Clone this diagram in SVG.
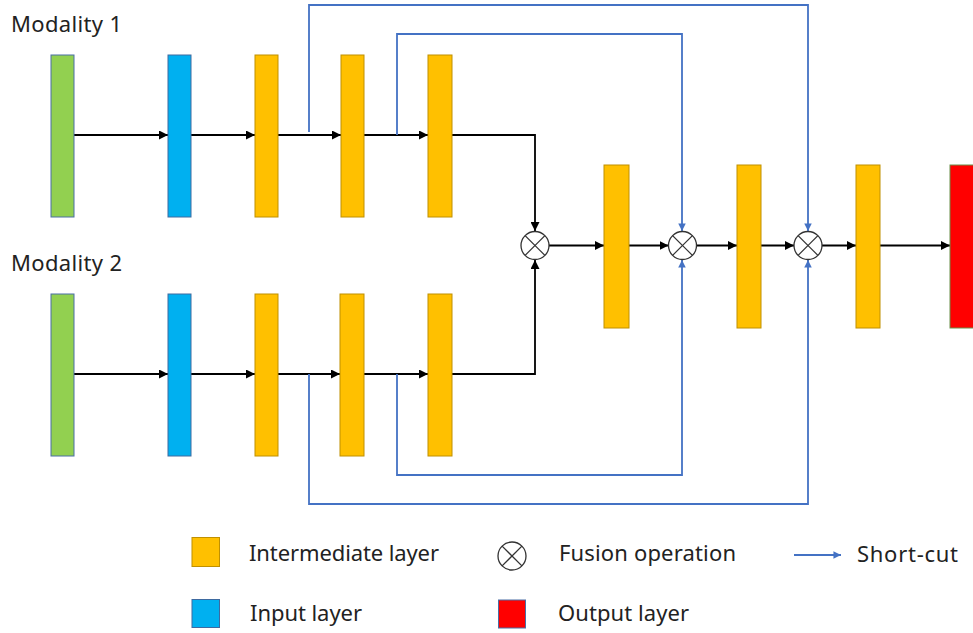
<svg xmlns="http://www.w3.org/2000/svg" width="973" height="633" viewBox="0 0 973 633">
<defs>
<style>
.t{font-family:"Noto Sans","Open Sans","DejaVu Sans",sans-serif;font-size:22px;fill:#222}
.g{fill:#92D050;stroke:#4A6FA5;stroke-width:1}
.b{fill:#00B0F0;stroke:#3E6AA0;stroke-width:1}
.y{fill:#FFC000;stroke:#C09000;stroke-width:1}
.r{fill:#FF0000;stroke:#6A8F4A;stroke-width:1}
.k{fill:none;stroke:#000;stroke-width:1.8}
.s{fill:none;stroke:#4472C4;stroke-width:1.8}
.f circle{fill:#fff;stroke:#333;stroke-width:1.3}
.f line{stroke:#333;stroke-width:1.3}
</style>
<marker id="ak" viewBox="0 0 10 10" refX="10" refY="5" markerWidth="5" markerHeight="5" orient="auto" markerUnits="strokeWidth">
<path d="M0,0 L10,5 L0,10 z" fill="#000"/>
</marker>
<marker id="as" viewBox="0 0 10 10" refX="10" refY="5" markerWidth="4.2" markerHeight="4.2" orient="auto" markerUnits="strokeWidth">
<path d="M0,0 L10,5 L0,10 z" fill="#4472C4"/>
</marker>
</defs>
<rect width="973" height="633" fill="#fff"/>

<text class="t" x="11" y="32" textLength="111">Modality 1</text>
<text class="t" x="11" y="271" textLength="111">Modality 2</text>

<g id="connectors">
<!-- top row -->
<line class="k" x1="74" y1="135" x2="168" y2="135" marker-end="url(#ak)"/>
<line class="k" x1="191" y1="135" x2="255" y2="135" marker-end="url(#ak)"/>
<line class="k" x1="278" y1="135" x2="341" y2="135" marker-end="url(#ak)"/>
<line class="k" x1="364" y1="135" x2="428" y2="135" marker-end="url(#ak)"/>
<polyline class="k" points="452,135 535,135 535,231" marker-end="url(#ak)"/>
<!-- bottom row -->
<line class="k" x1="74" y1="374" x2="168" y2="374" marker-end="url(#ak)"/>
<line class="k" x1="191" y1="374" x2="255" y2="374" marker-end="url(#ak)"/>
<line class="k" x1="278" y1="374" x2="340" y2="374" marker-end="url(#ak)"/>
<line class="k" x1="364" y1="374" x2="428" y2="374" marker-end="url(#ak)"/>
<polyline class="k" points="452,374 535,374 535,260" marker-end="url(#ak)"/>
<!-- fusion path -->
<line class="k" x1="549" y1="245.5" x2="604" y2="245.5" marker-end="url(#ak)"/>
<line class="k" x1="629" y1="245.5" x2="668.5" y2="245.5" marker-end="url(#ak)"/>
<line class="k" x1="697" y1="245.5" x2="737" y2="245.5" marker-end="url(#ak)"/>
<line class="k" x1="761" y1="245.5" x2="794" y2="245.5" marker-end="url(#ak)"/>
<line class="k" x1="822" y1="245.5" x2="856" y2="245.5" marker-end="url(#ak)"/>
<line class="k" x1="880" y1="245.5" x2="950" y2="245.5" marker-end="url(#ak)"/>
<!-- short-cuts -->
<polyline class="s" points="309,132 309,5 808,5 808,231" marker-end="url(#as)"/>
<polyline class="s" points="397,135 397,34 682,34 682,231" marker-end="url(#as)"/>
<polyline class="s" points="397,374 397,475 682,475 682,260" marker-end="url(#as)"/>
<polyline class="s" points="309,374 309,504 808,504 808,260" marker-end="url(#as)"/>
</g>

<g id="m1-in"><rect class="g" x="51" y="55" width="23" height="162"/></g>
<g id="m1-l1"><rect class="b" x="168" y="55" width="23" height="162"/></g>
<g id="m1-l2"><rect class="y" x="255" y="55" width="23" height="162"/></g>
<g id="m1-l3"><rect class="y" x="341" y="55" width="23" height="162"/></g>
<g id="m1-l4"><rect class="y" x="428" y="55" width="24" height="162"/></g>

<g id="m2-in"><rect class="g" x="51" y="294" width="23" height="162"/></g>
<g id="m2-l1"><rect class="b" x="168" y="294" width="23" height="162"/></g>
<g id="m2-l2"><rect class="y" x="255" y="294" width="23" height="162"/></g>
<g id="m2-l3"><rect class="y" x="340" y="294" width="24" height="162"/></g>
<g id="m2-l4"><rect class="y" x="428" y="294" width="24" height="162"/></g>

<g id="fuse1" class="f"><circle cx="535" cy="245.5" r="14"/><line x1="525.1" y1="235.6" x2="544.9" y2="255.4"/><line x1="544.9" y1="235.6" x2="525.1" y2="255.4"/></g>
<g id="mid1"><rect class="y" x="604" y="165" width="25" height="163"/></g>
<g id="fuse2" class="f"><circle cx="682.5" cy="245.5" r="14"/><line x1="672.6" y1="235.6" x2="692.4" y2="255.4"/><line x1="692.4" y1="235.6" x2="672.6" y2="255.4"/></g>
<g id="mid2"><rect class="y" x="737" y="165" width="24" height="163"/></g>
<g id="fuse3" class="f"><circle cx="808" cy="245.5" r="14"/><line x1="798.1" y1="235.6" x2="817.9" y2="255.4"/><line x1="817.9" y1="235.6" x2="798.1" y2="255.4"/></g>
<g id="mid3"><rect class="y" x="856" y="165" width="24" height="163"/></g>
<g id="out"><rect class="r" x="950" y="165" width="24" height="163"/></g>

<g id="legend">
<rect class="y" x="192" y="537.5" width="27.5" height="29"/>
<text class="t" x="249" y="561" textLength="190">Intermediate layer</text>
<rect class="b" x="192" y="599.5" width="27.5" height="28"/>
<text class="t" x="250" y="621" textLength="112">Input layer</text>
<g class="f"><circle cx="512" cy="556" r="14"/><line x1="502.1" y1="546.1" x2="521.9" y2="565.9"/><line x1="521.9" y1="546.1" x2="502.1" y2="565.9"/></g>
<text class="t" x="559" y="561" textLength="177">Fusion operation</text>
<rect x="498.5" y="600" width="27" height="28" fill="#FF0000" stroke="#4A6FA5" stroke-width="1"/>
<text class="t" x="558" y="621" textLength="131">Output layer</text>
<line class="s" x1="794" y1="555" x2="841" y2="555" marker-end="url(#as)"/>
<text class="t" x="857" y="562" textLength="101">Short-cut</text>
</g>
</svg>
